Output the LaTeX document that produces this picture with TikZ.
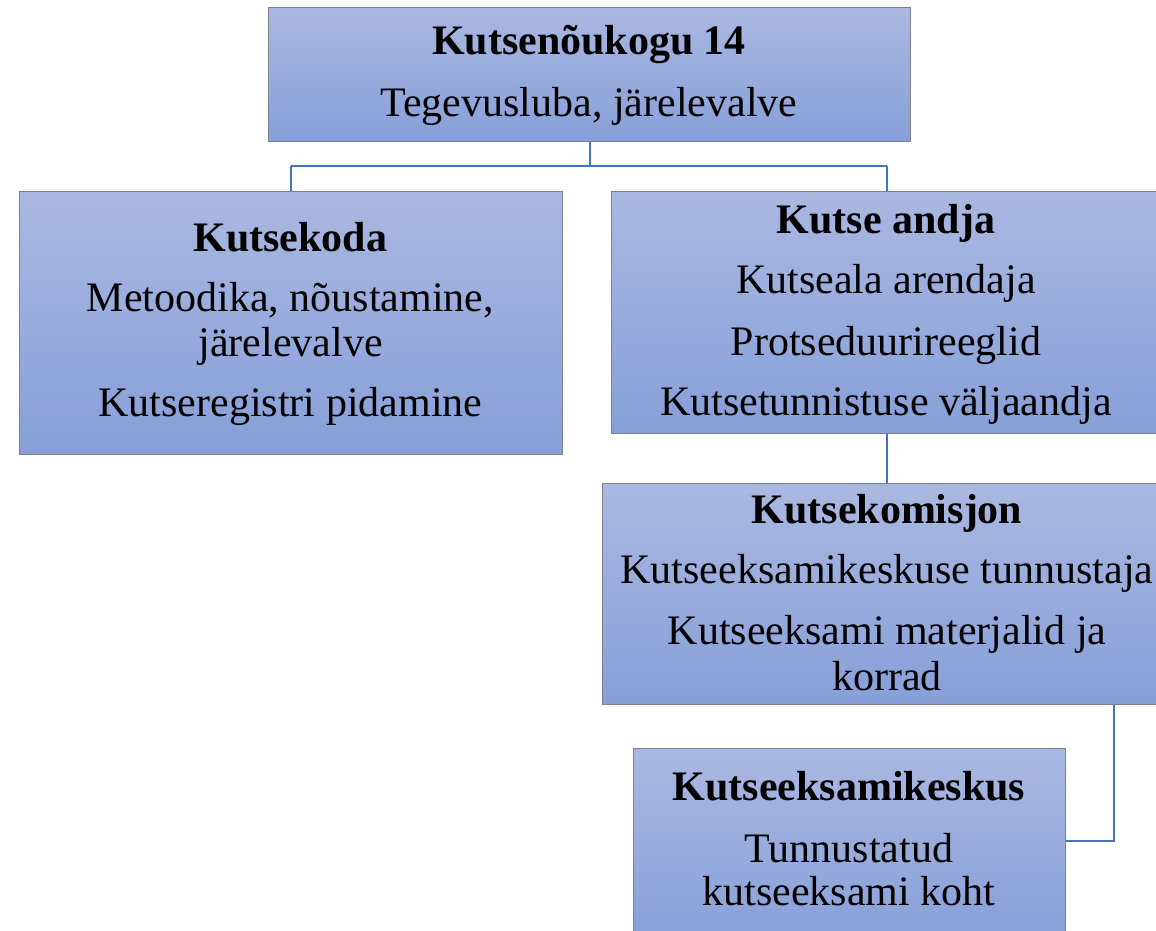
\documentclass[tikz,border=0pt]{standalone}
\usepackage{fontspec}
\setmainfont{Liberation Serif}
\definecolor{boxtop}{RGB}{170,184,225}
\definecolor{boxbot}{RGB}{135,159,216}
\definecolor{boxline}{RGB}{128,128,140}
\definecolor{conncol}{RGB}{68,114,196}
\tikzset{
  orgbox/.style={draw=boxline, line width=1.3pt, top color=boxtop, bottom color=boxbot,
    anchor=north west, inner sep=0pt, rectangle},
  conn/.style={draw=conncol, line width=2pt},
  tline/.style={anchor=base, inner sep=0pt, font=\fontsize{42}{45}\selectfont},
  tbold/.style={tline, font=\fontsize{42}{45}\selectfont\bfseries},
}
\begin{document}
\begin{tikzpicture}[x=1pt,y=-1pt]
\useasboundingbox (0,0) rectangle (1156,931);
\clip (0,0) rectangle (1156,931);
% boxes
\node[orgbox, minimum width=642pt, minimum height=134pt] (top) at (268,7) {};
\node[orgbox, minimum width=543pt, minimum height=263pt] (kk) at (19,191) {};
\node[orgbox, minimum width=550pt, minimum height=242pt] (ka) at (611,191) {};
\node[orgbox, minimum width=570pt, minimum height=221pt] (kom) at (602,483) {};
\node[orgbox, minimum width=432pt, minimum height=196pt] (kes) at (633,748) {};
% connectors
\coordinate (hbar) at (590,166);
\draw[conn] (top.south) -- (top.south |- hbar);
\draw[conn] (kk.north |- hbar) -- (ka.north |- hbar);
\draw[conn] (kk.north |- hbar) -- (kk.north);
\draw[conn] (ka.north |- hbar) -- (ka.north);
\draw[conn] (ka.south) -- (kom.north -| ka.south);
\coordinate (bend) at (1114,841);
\draw[conn] (kom.south -| bend) -- (bend) -- (bend -| kes.east);
% texts
\node[tbold] (t1) at (589,55) {Kutsenõukogu 14};
\node[tline] (t2) at (589,117) {Tegevusluba, järelevalve};
\node[tbold] (l1) at (290.5,251) {Kutsekoda};
\node[tline] (l2) at (290.5,311) {Metoodika, nõustamine,};
\node[tline] (l3) at (290.5,356) {järelevalve};
\node[tline] (l4) at (290.5,416) {Kutseregistri pidamine};
\node[tbold] (r1) at (886,233) {Kutse andja};
\node[tline] (r2) at (886,293) {Kutseala arendaja};
\node[tline] (r3) at (886,355) {Protseduurireeglid};
\node[tline] (r4) at (886,415) {Kutsetunnistuse väljaandja};
\node[tbold] (m1) at (887,523) {Kutsekomisjon};
\node[tline] (m2) at (887,583) {Kutseeksamikeskuse tunnustaja};
\node[tline] (m3) at (887,644) {Kutseeksami materjalid ja};
\node[tline] (m4) at (887,690) {korrad};
\node[tbold] (k1) at (849,800) {Kutseeksamikeskus};
\node[tline] (k2) at (849,862) {Tunnustatud};
\node[tline] (k3) at (849,905) {kutseeksami koht};
\end{tikzpicture}
\end{document}
